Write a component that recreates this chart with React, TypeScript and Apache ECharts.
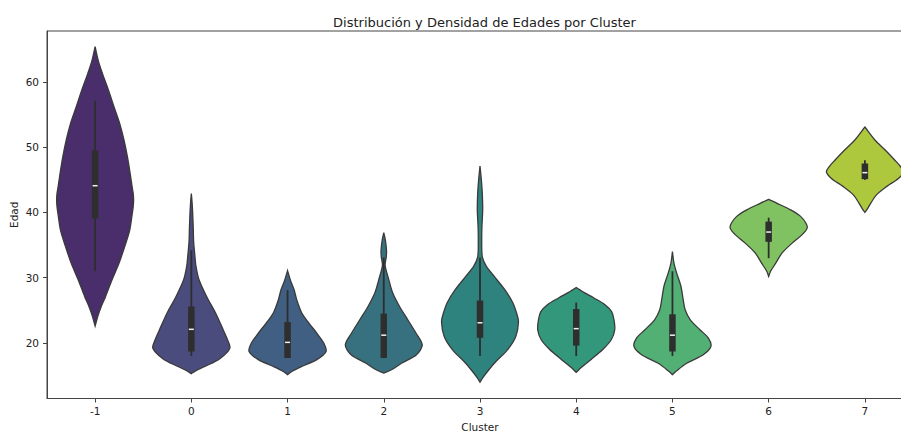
import React, { useEffect, useRef } from "react";
import * as echarts from "echarts";

const clusters = ["-1", "0", "1", "2", "3", "4", "5", "6", "7"];
const yTicks = [20, 30, 40, 50, 60];
const colors = ["#492E6B", "#4A4C7E", "#405F82", "#37717F", "#2F837F", "#33977C", "#53B074", "#80C161", "#AEC83D"];

// Perfil de densidad: [edad, ancho relativo]
const densM1 = [[65.4, 0], [63.3, 0.08], [61.3, 0.19], [58.7, 0.35], [56.2, 0.49], [53.6, 0.64], [51.1, 0.75], [48.5, 0.84], [46.0, 0.91], [44.0, 0.96], [42.9, 0.99], [41.9, 1.0], [40.9, 0.99], [39.6, 0.96], [37.3, 0.9], [34.8, 0.77], [32.2, 0.62], [29.7, 0.44], [27.1, 0.27], [25.6, 0.16], [24.1, 0.07], [22.6, 0]];
const dens0 = [[42.9, 0], [41.5, 0.02], [39.9, 0.035], [37.5, 0.05], [35.5, 0.06], [33.5, 0.09], [31.8, 0.12], [29.7, 0.2], [27.1, 0.4], [24.6, 0.63], [22.0, 0.83], [20.5, 0.94], [19.2, 1.0], [17.6, 0.74], [16.4, 0.35], [15.7, 0.1], [15.3, 0]];
const dens1 = [[31.1, 0], [29.7, 0.07], [28.15, 0.17], [26.6, 0.24], [24.6, 0.37], [23.1, 0.55], [21.5, 0.76], [20.0, 0.94], [18.7, 1.0], [17.45, 0.76], [16.4, 0.37], [15.6, 0.1], [15.15, 0]];
const dens2 = [[36.9, 0], [35.8, 0.04], [34.3, 0.07], [33.2, 0.065], [31.9, 0.035], [29.7, 0.13], [27.7, 0.23], [25.6, 0.41], [23.6, 0.62], [21.5, 0.84], [19.7, 1.0], [18.2, 0.85], [16.9, 0.46], [15.9, 0.2], [15.4, 0]];
const dens3 = [[47.1, 0], [45.0, 0.035], [42.9, 0.06], [40.4, 0.07], [37.8, 0.05], [35.3, 0.045], [33.2, 0.06], [31.7, 0.17], [30.2, 0.37], [28.2, 0.64], [26.2, 0.85], [24.6, 0.95], [23.3, 1.0], [21.0, 0.93], [19.0, 0.72], [17.2, 0.42], [15.9, 0.23], [14.65, 0.07], [14.0, 0]];
const dens4 = [[28.5, 0], [27.9, 0.16], [26.9, 0.46], [25.9, 0.74], [24.8, 0.92], [23.6, 0.98], [22.0, 1.0], [20.5, 0.91], [19.0, 0.69], [17.45, 0.38], [16.2, 0.12], [15.5, 0]];
const dens5 = [[34.0, 0], [32.2, 0.04], [30.7, 0.11], [28.7, 0.22], [26.6, 0.28], [25.1, 0.33], [23.6, 0.46], [22.0, 0.72], [20.8, 0.93], [19.5, 1.0], [18.2, 0.8], [16.9, 0.37], [15.7, 0.1], [15.15, 0]];
const dens6 = [[42.0, 0], [41.4, 0.22], [40.4, 0.57], [39.4, 0.83], [38.35, 0.97], [37.6, 1.0], [36.6, 0.87], [35.3, 0.61], [33.8, 0.35], [32.2, 0.18], [31.0, 0.05], [30.2, 0]];
const dens7 = [[53.1, 0], [52.4, 0.09], [51.1, 0.26], [49.6, 0.52], [48.0, 0.78], [47.0, 0.93], [46.2, 1.0], [45.2, 0.87], [44.0, 0.57], [42.7, 0.3], [41.4, 0.15], [40.5, 0.06], [40.0, 0]];
const densities = [densM1, dens0, dens1, dens2, dens3, dens4, dens5, dens6, dens7];

const whiskerLow = [31.0, 18.0, 17.7, 17.7, 18.0, 18.0, 18.0, 33.0, 45.0];
const q1 = [39.1, 18.7, 17.7, 17.7, 20.8, 19.6, 18.7, 35.5, 45.1];
const median = [44.1, 22.1, 20.1, 21.2, 23.1, 22.2, 21.2, 37.0, 46.1];
const q3 = [49.5, 25.6, 23.2, 24.5, 26.5, 25.2, 24.4, 38.6, 47.5];
const whiskerHigh = [57.1, 34.2, 28.1, 33.1, 33.1, 26.2, 31.0, 39.2, 48.0];

const FONT = "DejaVu Sans";

export default function App() {
  const ref = useRef<HTMLDivElement>(null);
  useEffect(() => {
    if (!ref.current) return;
    const chart = echarts.init(ref.current, null, { renderer: "svg" });
    const renderItem = (params: any, api: any) => {
      const i = params.dataIndex;
      const half = api.size([1, 0])[0] * 0.4;
      const prof = densities[i];
      const right: number[][] = [];
      const left: number[][] = [];
      prof.forEach(([y, w]) => {
        const p = api.coord([i, y]);
        right.push([p[0] + w * half, p[1]]);
        left.push([p[0] - w * half, p[1]]);
      });
      const points = right.concat(left.reverse());
      const c = api.coord([i, median[i]]);
      const cx = c[0];
      const yWl = api.coord([i, whiskerLow[i]])[1];
      const yWh = api.coord([i, whiskerHigh[i]])[1];
      const yQ1 = api.coord([i, q1[i]])[1];
      const yQ3 = api.coord([i, q3[i]])[1];
      const boxW = 6.5;
      return {
        type: "group",
        children: [
          {
            type: "polygon",
            shape: { points, smooth: 0.3 },
            style: { fill: colors[i], stroke: "#3a3a3a", lineWidth: 1.3 },
          },
          {
            type: "line",
            shape: { x1: cx, y1: yWh, x2: cx, y2: yWl },
            style: { stroke: "#2e2e2e", lineWidth: 1.8 },
          },
          {
            type: "rect",
            shape: { x: cx - boxW / 2, y: yQ3, width: boxW, height: yQ1 - yQ3 },
            style: { fill: "#2e2e2e" },
          },
          {
            type: "rect",
            shape: { x: cx - 2.5, y: c[1] - 0.75, width: 5, height: 1.5 },
            style: { fill: "#f2f2f2" },
          },
        ],
      };
    };
    chart.setOption({
      animation: false,
      title: {
        text: "Distribución y Densidad de Edades por Cluster",
        left: 479.5,
        textAlign: "center",
        top: 11,
        textStyle: { fontFamily: FONT, fontSize: 13, fontWeight: "normal", color: "#222" },
      },
      grid: {
        left: 47,
        top: 31,
        width: 866,
        height: 367.5,
        show: true,
        borderColor: "#444",
        borderWidth: 1,
        outerBoundsMode: "none",
      },
      xAxis: {
        type: "category",
        data: clusters,
        name: "Cluster",
        nameLocation: "middle",
        nameGap: 23,
        nameMoveOverlap: false,
        nameTextStyle: { fontFamily: FONT, fontSize: 10.5, color: "#222" },
        axisLine: { show: true, lineStyle: { color: "#444", width: 1 } },
        axisTick: { show: true, alignWithLabel: true, length: 4, lineStyle: { color: "#444" } },
        axisLabel: { fontFamily: FONT, fontSize: 10.5, color: "#222", margin: 7 },
        splitLine: { show: false },
      },
      yAxis: {
        type: "value",
        min: 11.5,
        max: 67.8,
        name: "Edad",
        nameLocation: "middle",
        nameGap: 28,
        nameMoveOverlap: false,
        nameTextStyle: { fontFamily: FONT, fontSize: 10.5, color: "#222" },
        axisLine: { show: true, lineStyle: { color: "#444", width: 1 } },
        axisTick: { show: true, length: 4, customValues: yTicks, lineStyle: { color: "#444" } },
        axisLabel: { fontFamily: FONT, fontSize: 10.5, color: "#222", margin: 8, customValues: yTicks },
        splitLine: { show: false },
      },
      series: [
        {
          type: "custom",
          renderItem,
          encode: { x: 0, y: 1 },
          data: clusters.map((_, i) => [i, median[i]]),
          clip: false,
        },
      ],
    });
    return () => chart.dispose();
  }, []);
  return (
    <div
      ref={ref}
      style={{ position: "absolute", left: 0, top: 0, width: 901, height: 432, background: "#fff" }}
    />
  );
}
